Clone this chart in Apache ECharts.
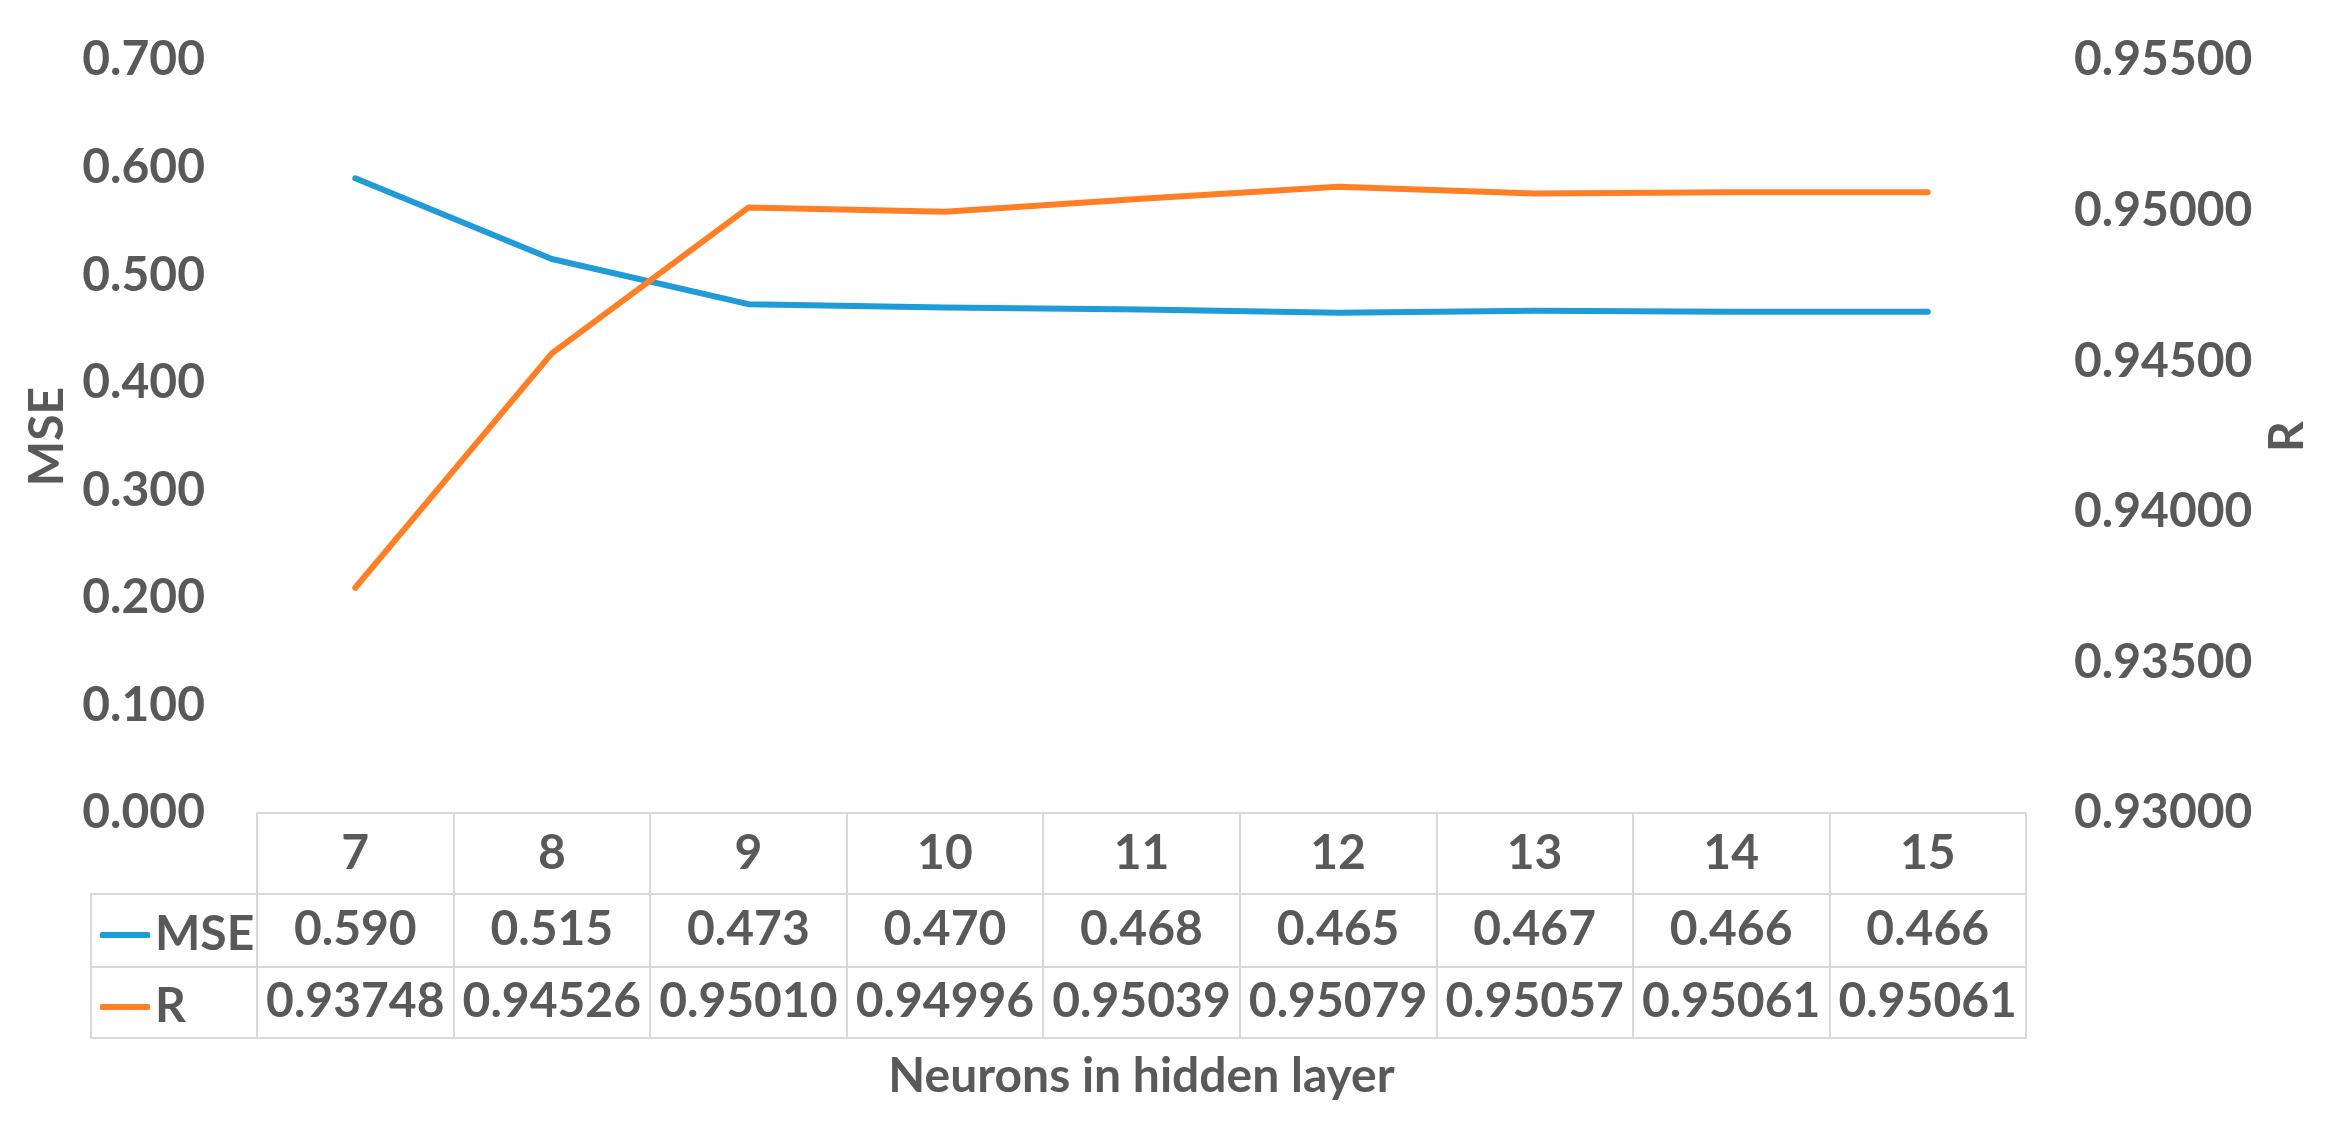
<!DOCTYPE html>
<html><head><meta charset="utf-8">
<script src="https://cdn.jsdelivr.net/npm/echarts@6/dist/echarts.min.js"></script>
<style>html,body{margin:0;padding:0;background:#fff}#c{width:2339px;height:1122px}</style>
</head><body><div id="c"></div>
<script>
// ---- data ----
const categories = ['7', '8', '9', '10', '11', '12', '13', '14', '15'];
const mseValues = [0.590, 0.515, 0.473, 0.470, 0.468, 0.465, 0.467, 0.466, 0.466];
const rValues = [0.93748, 0.94526, 0.95010, 0.94996, 0.95039, 0.95079, 0.95057, 0.95061, 0.95061];
const seriesNames = ['MSE', 'R'];
const xAxisTitle = 'Neurons in hidden layer';
const mseTicks = { min: 0, max: 0.7, interval: 0.1, decimals: 3 };
const rTicks = { min: 0.93, max: 0.955, interval: 0.005, decimals: 5 };

// ---- layout / style ----
const W = 2339, H = 1122;
const gridLeft = 257, gridRight = 313, gridTop = 60, gridBottomY = 813;
const rowLines = [813, 894, 967, 1038];
const tableLeft = 91;
const FONT = 'Lato, "Open Sans", sans-serif';
const FS = 48;
const TXT = '#595959';
const LINEC = '#d9d9d9';
const BLUE = '#1f9bd8', ORANGE = '#ff7f27';

const chart = echarts.init(document.getElementById('c'), null, { renderer: 'canvas' });
const txt = { fontFamily: FONT, fontSize: FS, fontWeight: 'bold', color: TXT };

function rowAxis(offset, margin, values, decimals, showLine) {
  return {
    type: 'category', gridIndex: 0, position: 'bottom', data: categories, offset: offset,
    boundaryGap: true,
    axisLine: { show: showLine, onZero: false, lineStyle: { color: LINEC, width: 2 } },
    axisTick: { show: false }, splitLine: { show: false },
    axisLabel: values ? Object.assign({ margin: margin, verticalAlign: 'middle', interval: 0,
      formatter: (v, i) => values[i].toFixed(decimals) }, txt) : { show: false }
  };
}

const option = {
  backgroundColor: '#ffffff',
  animation: false,
  grid: { left: gridLeft, right: gridRight, top: gridTop, bottom: H - gridBottomY, containLabel: false },
  legend: {
    orient: 'vertical', left: 95, top: rowLines[1], itemGap: 0,
    itemWidth: 50, itemHeight: 6, icon: 'roundRect',
    data: seriesNames,
    textStyle: Object.assign({ lineHeight: 72, height: 72 }, txt),
    selectedMode: false
  },
  xAxis: [
    {
      type: 'category', gridIndex: 0, position: 'bottom', data: categories, boundaryGap: true,
      axisLine: { show: true, onZero: false, lineStyle: { color: LINEC, width: 2 } },
      axisTick: { show: true, length: rowLines[3] - rowLines[0], interval: 0, lineStyle: { color: LINEC, width: 2 } },
      splitLine: { show: false },
      axisLabel: Object.assign({ margin: 41, verticalAlign: 'middle', interval: 0 }, txt),
      name: xAxisTitle, nameLocation: 'middle', nameGap: 264,
      nameTextStyle: Object.assign({ verticalAlign: 'middle' }, txt)
    },
    rowAxis(rowLines[1] - rowLines[0], 36, mseValues, 3, true),
    rowAxis(rowLines[2] - rowLines[0], 35, rValues, 5, true),
    rowAxis(rowLines[3] - rowLines[0], 0, null, 0, true)
  ],
  yAxis: [
    {
      type: 'value', min: mseTicks.min, max: mseTicks.max, interval: mseTicks.interval,
      axisLine: { show: false }, axisTick: { show: false }, splitLine: { show: false },
      axisLabel: Object.assign({ margin: 52, formatter: v => v.toFixed(mseTicks.decimals) }, txt),
      name: seriesNames[0], nameLocation: 'middle', nameGap: 205, nameRotate: 90,
      nameTextStyle: Object.assign({ verticalAlign: 'middle' }, txt)
    },
    {
      type: 'value', position: 'right', min: rTicks.min, max: rTicks.max, interval: rTicks.interval,
      axisLine: { show: false }, axisTick: { show: false }, splitLine: { show: false },
      axisLabel: Object.assign({ margin: 48, formatter: v => v.toFixed(rTicks.decimals) }, txt),
      name: seriesNames[1], nameLocation: 'middle', nameGap: 260, nameRotate: 90,
      nameTextStyle: Object.assign({ verticalAlign: 'middle' }, txt)
    }
  ],
  series: [
    { name: seriesNames[0], type: 'line', xAxisIndex: 0, yAxisIndex: 0, data: mseValues,
      showSymbol: false, symbol: 'none', smooth: false, color: BLUE,
      lineStyle: { color: BLUE, width: 6, cap: 'round', join: 'round' } },
    { name: seriesNames[1], type: 'line', xAxisIndex: 0, yAxisIndex: 1, data: rValues,
      showSymbol: false, symbol: 'none', smooth: false, color: ORANGE,
      lineStyle: { color: ORANGE, width: 6, cap: 'round', join: 'round' } }
  ],
  graphic: [
    { type: 'rect', silent: true,
      shape: { x: tableLeft, y: rowLines[1], width: gridLeft - tableLeft, height: rowLines[3] - rowLines[1] },
      style: { fill: null, stroke: LINEC, lineWidth: 2 } },
    { type: 'line', silent: true,
      shape: { x1: tableLeft, y1: rowLines[2], x2: gridLeft, y2: rowLines[2] },
      style: { stroke: LINEC, lineWidth: 2 } }
  ]
};
chart.setOption(option);
</script>
</body></html>
